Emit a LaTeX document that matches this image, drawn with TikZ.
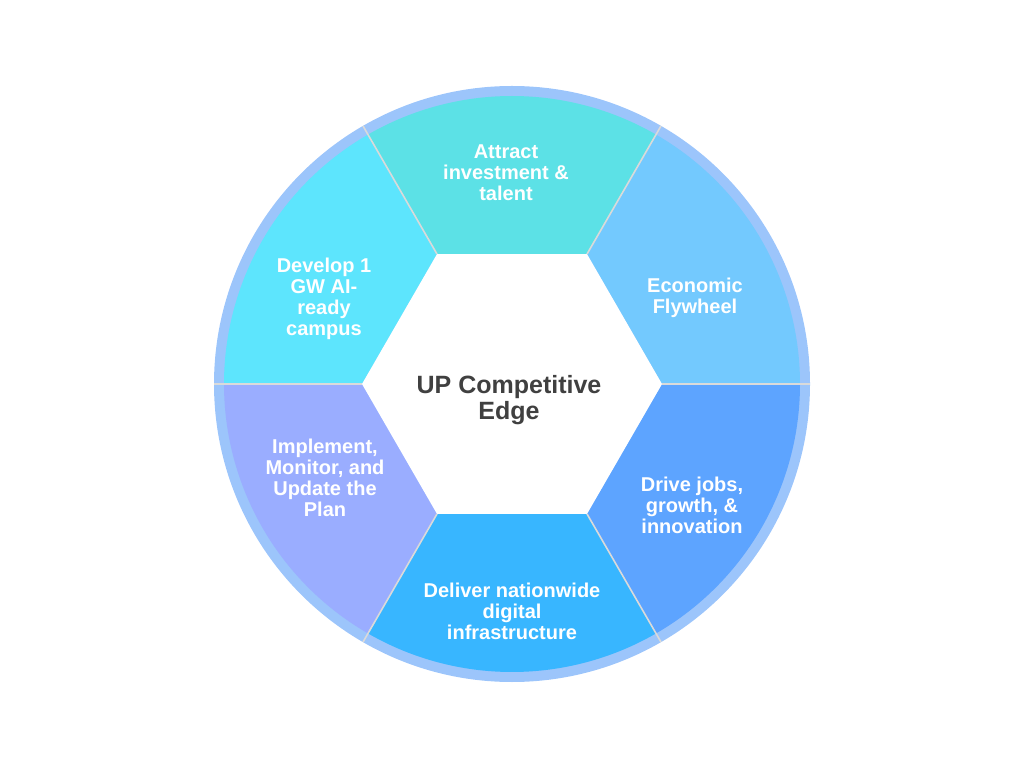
\documentclass[tikz,border=0pt]{standalone}
\usepackage{fontspec}
\setmainfont{Liberation Sans}
\usetikzlibrary{calc}
\definecolor{ringc}{HTML}{9CC5FB}
\definecolor{segA}{HTML}{5CE1E6}
\definecolor{segB}{HTML}{73C9FE}
\definecolor{segC}{HTML}{5DA4FF}
\definecolor{segD}{HTML}{38B6FF}
\definecolor{segE}{HTML}{9AADFF}
\definecolor{segF}{HTML}{5DE5FD}
\definecolor{sepc}{HTML}{DADADA}
\definecolor{darktext}{HTML}{404040}
\tikzset{
  segtext/.style={text=white, font=\fontsize{15pt}{15.8pt}\selectfont\bfseries, align=center, inner sep=0pt},
  centertext/.style={text=darktext, font=\fontsize{18.75pt}{19.5pt}\selectfont\bfseries, align=center, inner sep=0pt},
  sepline/.style={draw=sepc, line width=1.2pt},
}
\begin{document}
\begin{tikzpicture}[x=0.75pt, y=0.75pt]
\useasboundingbox (0,0) rectangle (1024,768);
\coordinate (c) at (512,384);
% outer ring
\fill[ringc] (c) circle[radius=298];
% segments
\foreach \a/\col in {60/segA, 0/segB, -60/segC, 240/segD, 180/segE, 120/segF}{
  \pgfmathsetmacro{\b}{\a+60}
  \fill[\col] ($(c)+(\a:150)$) -- ($(c)+(\a:288)$) arc[start angle=\a, end angle=\b, radius=288] -- ($(c)+(\b:150)$) -- cycle;
}
% inner hexagon
\fill[white] ($(c)+(0:150)$) -- ($(c)+(60:150)$) -- ($(c)+(120:150)$) -- ($(c)+(180:150)$) -- ($(c)+(240:150)$) -- ($(c)+(300:150)$) -- cycle;
% separators
\foreach \a in {0,60,120,180,240,300}{
  \draw[sepline] ($(c)+(\a:150)$) -- ($(c)+(\a:298)$);
}
% labels
\node[segtext] (tA) at (506,595) {Attract\\investment \&\\talent};
\node[segtext] (tB) at (695,470) {Economic\\Flywheel};
\node[segtext] (tC) at (692,263) {Drive jobs,\\growth, \&\\innovation};
\node[segtext] (tD) at (512,157) {Deliver nationwide\\digital\\infrastructure};
\node[segtext] (tE) at (325,290) {Implement,\\Monitor, and\\Update the\\Plan};
\node[segtext] (tF) at (324,469) {Develop 1\\GW AI-\\ready\\campus};
\node[centertext] (tC0) at (509,368) {UP Competitive\\Edge};
\end{tikzpicture}
\end{document}
